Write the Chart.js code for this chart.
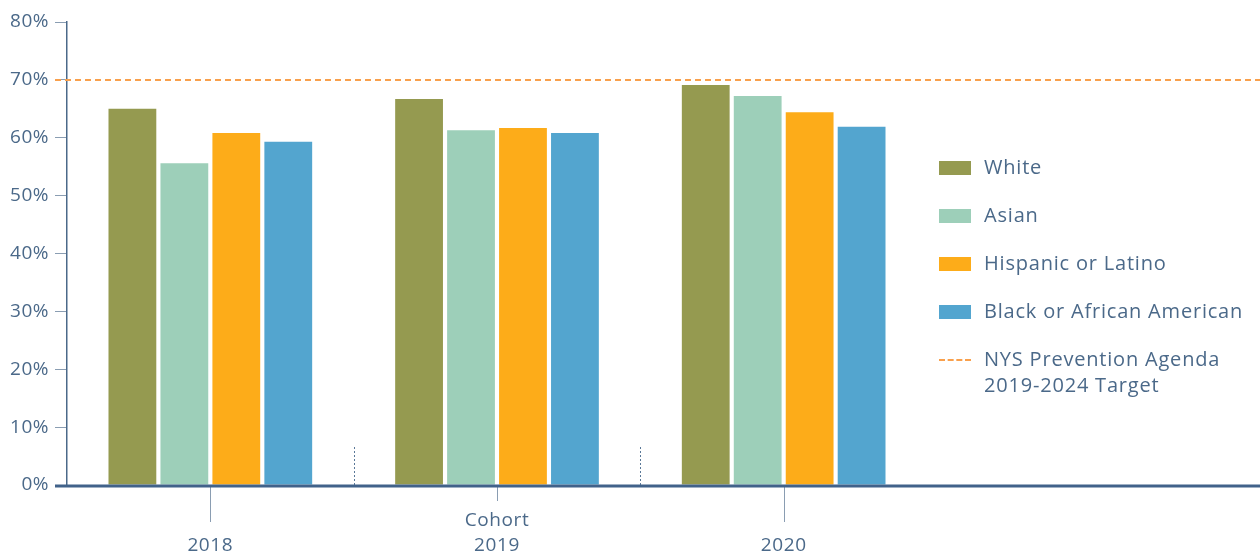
<!DOCTYPE html>
<html>
<head>
<meta charset="utf-8">
<script src="https://cdn.jsdelivr.net/npm/chart.js@4"></script>
<style>
  html, body { margin: 0; padding: 0; background: #fff; }
  #wrap { position: relative; width: 1260px; height: 556px; }
  #legend { position: absolute; left: 939px; top: 155px; font-family: "Open Sans", "Noto Sans", sans-serif; font-size: 20px; letter-spacing: 0.8px; color: #4b6989; }
  .item { display: flex; align-items: flex-start; height: 48px; }
  .box { width: 32px; height: 14px; margin-top: 6px; margin-right: 13px; flex: none; }
  .dash { width: 32px; height: 0; margin-top: 12px; margin-right: 13px; border-top: 2px dashed #f9a04c; flex: none; }
  .txt { line-height: 26px; margin-top: -1px; white-space: nowrap; }
</style>
</head>
<body>
<div id="wrap">
  <canvas id="chart" width="1260" height="556"></canvas>
  <div id="legend"></div>
</div>
<script>
// ===============================
// data
// ===============================
const cohorts = ["2018", "2019", "2020"];
const axisTitle = "Cohort";

const seriesNames = ["White", "Asian", "Hispanic or Latino", "Black or African American"];
const seriesColors = ["#959a50", "#9dcfb9", "#fdac19", "#53a5cf"];

const white = [65.0, 66.7, 69.1];
const asian = [55.6, 61.3, 67.2];
const hispanic = [60.8, 61.7, 64.4];
const black = [59.3, 60.8, 61.9];

const targetValue = 70;
const targetLabel = ["NYS Prevention Agenda", "2019-2024 Target"];

const textColor = "#4b6989";
const font = "'Open Sans', 'Noto Sans', sans-serif";

const seriesValues = [white, asian, hispanic, black];

// ===============================
// extra drawing: baseline, target, cohort ticks
// ===============================
const decorPlugin = {
    id: "decor",
    beforeDraw(chart) {
        chart.ctx.letterSpacing = "0.5px";
    },
    afterDatasetsDraw(chart) {
        const ctx = chart.ctx;
        const x = chart.scales.x;
        const y = chart.scales.y;
        const area = chart.chartArea;
        const y0 = y.getPixelForValue(0);

        ctx.save();

        // target line
        const yt = y.getPixelForValue(targetValue);
        ctx.strokeStyle = "#f9a04c";
        ctx.lineWidth = 2;
        ctx.setLineDash([6, 4]);
        ctx.beginPath();
        ctx.moveTo(area.left - 12, yt);
        ctx.lineTo(chart.width, yt);
        ctx.stroke();

        // separators between cohorts
        ctx.strokeStyle = "#5a7898";
        ctx.lineWidth = 1;
        ctx.setLineDash([2, 2]);
        for (let i = 0; i < cohorts.length - 1; i++) {
            const xs = Math.round((x.getPixelForValue(i) + x.getPixelForValue(i + 1)) / 2) + 0.5;
            ctx.beginPath();
            ctx.moveTo(xs, y0 - 38);
            ctx.lineTo(xs, y0);
            ctx.stroke();
        }
        ctx.setLineDash([]);

        // cohort ticks
        const mid = Math.floor(cohorts.length / 2);
        ctx.strokeStyle = "#8a9db2";
        cohorts.forEach((c, i) => {
            const xc = Math.round(x.getPixelForValue(i)) + 0.5;
            ctx.beginPath();
            ctx.moveTo(xc, y0);
            ctx.lineTo(xc, y0 + (i === mid ? 16 : 37));
            ctx.stroke();
        });

        // baseline
        ctx.strokeStyle = "#41628a";
        ctx.lineWidth = 3;
        ctx.beginPath();
        ctx.moveTo(area.left - 12, y0 + 1);
        ctx.lineTo(chart.width, y0 + 1);
        ctx.stroke();

        // labels
        ctx.fillStyle = textColor;
        ctx.font = "19px " + font;
        ctx.letterSpacing = "0.6px";
        ctx.textAlign = "center";
        ctx.textBaseline = "middle";
        cohorts.forEach((c, i) => {
            ctx.fillText(c, x.getPixelForValue(i), y0 + 61);
        });
        ctx.fillText(axisTitle, x.getPixelForValue(mid), y0 + 36);

        ctx.restore();
    }
};

// ===============================
// chart
// ===============================
new Chart(document.getElementById("chart"), {
    type: "bar",
    data: {
        labels: cohorts,
        datasets: seriesNames.map((name, i) => ({
            label: name,
            data: seriesValues[i],
            backgroundColor: seriesColors[i],
            categoryPercentage: 0.725,
            barPercentage: 0.92
        }))
    },
    options: {
        responsive: false,
        animation: false,
        events: [],
        layout: {
            padding: { left: 0, right: 333, top: 22, bottom: 0 }
        },
        plugins: {
            legend: { display: false },
            tooltip: { enabled: false }
        },
        scales: {
            x: {
                ticks: { display: false },
                grid: { display: false },
                border: { display: false },
                afterFit(scale) { scale.height = 71; }
            },
            y: {
                min: 0,
                max: 80,
                ticks: {
                    stepSize: 10,
                    padding: 6,
                    color: textColor,
                    font: { family: font, size: 19 },
                    callback: v => v + "%"
                },
                grid: {
                    drawOnChartArea: false,
                    drawTicks: true,
                    tickLength: 12,
                    color: "#8a9db2"
                },
                border: { color: "#4b6989", width: 1.5 },
                afterFit(scale) { scale.width = 67; }
            }
        }
    },
    plugins: [decorPlugin]
});

// ===============================
// legend
// ===============================
const legend = document.getElementById("legend");
seriesNames.forEach((name, i) => {
    legend.innerHTML += `<div class="item"><div class="box" style="background:${seriesColors[i]}"></div><div class="txt">${name}</div></div>`;
});
legend.innerHTML += `<div class="item"><div class="dash"></div><div class="txt">${targetLabel.join("<br>")}</div></div>`;
</script>
</body>
</html>
